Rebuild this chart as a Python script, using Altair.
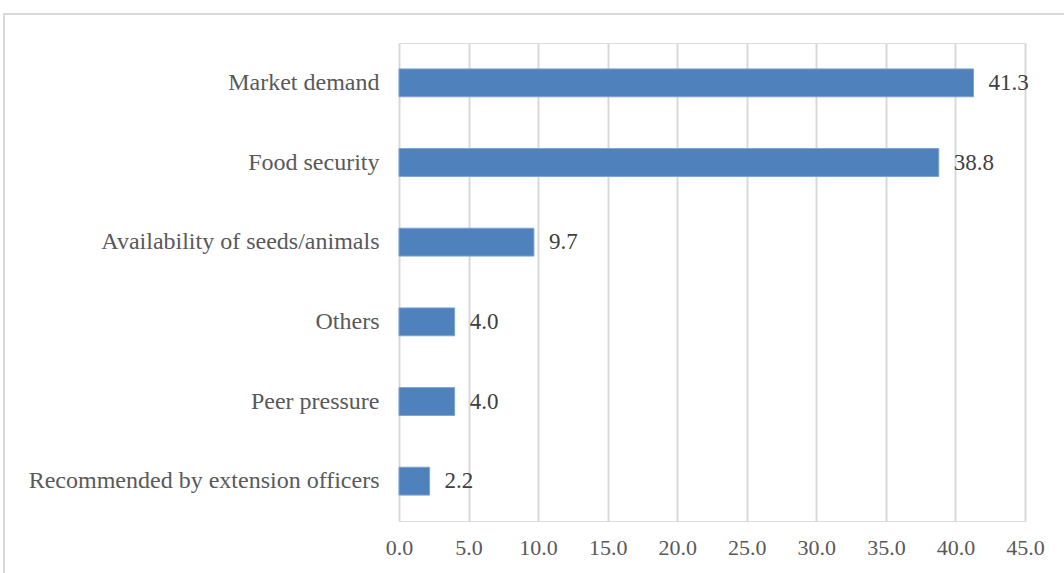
import altair as alt
import pandas as pd

categories = [
    "Market demand",
    "Food security",
    "Availability of seeds/animals",
    "Others",
    "Peer pressure",
    "Recommended by extension officers",
]
values = [41.3, 38.8, 9.7, 4.0, 4.0, 2.2]
tick_values = [0, 5, 10, 15, 20, 25, 30, 35, 40, 45]

df = pd.DataFrame({"category": categories, "value": values})
df["label"] = df["value"].map(lambda v: f"{v:.1f}")

W = 626
H = 478
FONT = "Liberation Serif"

y_enc = alt.Y(
    "category:N",
    sort=categories,
    title=None,
    scale=alt.Scale(paddingInner=0.65, paddingOuter=0.325),
    axis=alt.Axis(
        domain=False,
        ticks=False,
        grid=False,
        labelFont=FONT,
        labelFontSize=24,
        labelColor="#595959",
        labelPadding=20,
        labelLimit=500,
    ),
)
x_enc = alt.X(
    "value:Q",
    title=None,
    scale=alt.Scale(domain=[0, 45], nice=False),
    axis=alt.Axis(
        values=tick_values,
        format=".1f",
        domain=False,
        ticks=False,
        grid=True,
        gridColor="#d9d9d9",
        gridWidth=2,
        labelFont=FONT,
        labelFontSize=22,
        labelColor="#595959",
        labelPadding=16,
        labelFlush=False,
    ),
)

border = alt.Chart(pd.DataFrame({"k": [0]})).mark_rect(
    fill=None, stroke="#d9d9d9", strokeWidth=2
).encode(
    x=alt.value(-395), x2=alt.value(W + 60), y=alt.value(-29), y2=alt.value(H + 70)
)

bars = alt.Chart(df).mark_bar(color="#4F81BD", stroke="#7FA3D1", strokeWidth=1).encode(
    x=x_enc, y=y_enc
)

labels = alt.Chart(df).mark_text(
    align="left", baseline="middle", dx=15, font=FONT, fontSize=23, color="#404040"
).encode(x="value:Q", y=alt.Y("category:N", sort=categories), text="label:N")

chart = (
    alt.layer(border, bars, labels)
    .properties(
        width=W,
        height=H,
        autosize=alt.AutoSizeParams(type="none"),
        padding={"left": 399, "top": 43, "right": 39, "bottom": 52},
    )
    .configure_view(stroke=None)
    .configure(background="white")
)

chart.save("out.html", embed_options={"renderer": "svg", "actions": False})
